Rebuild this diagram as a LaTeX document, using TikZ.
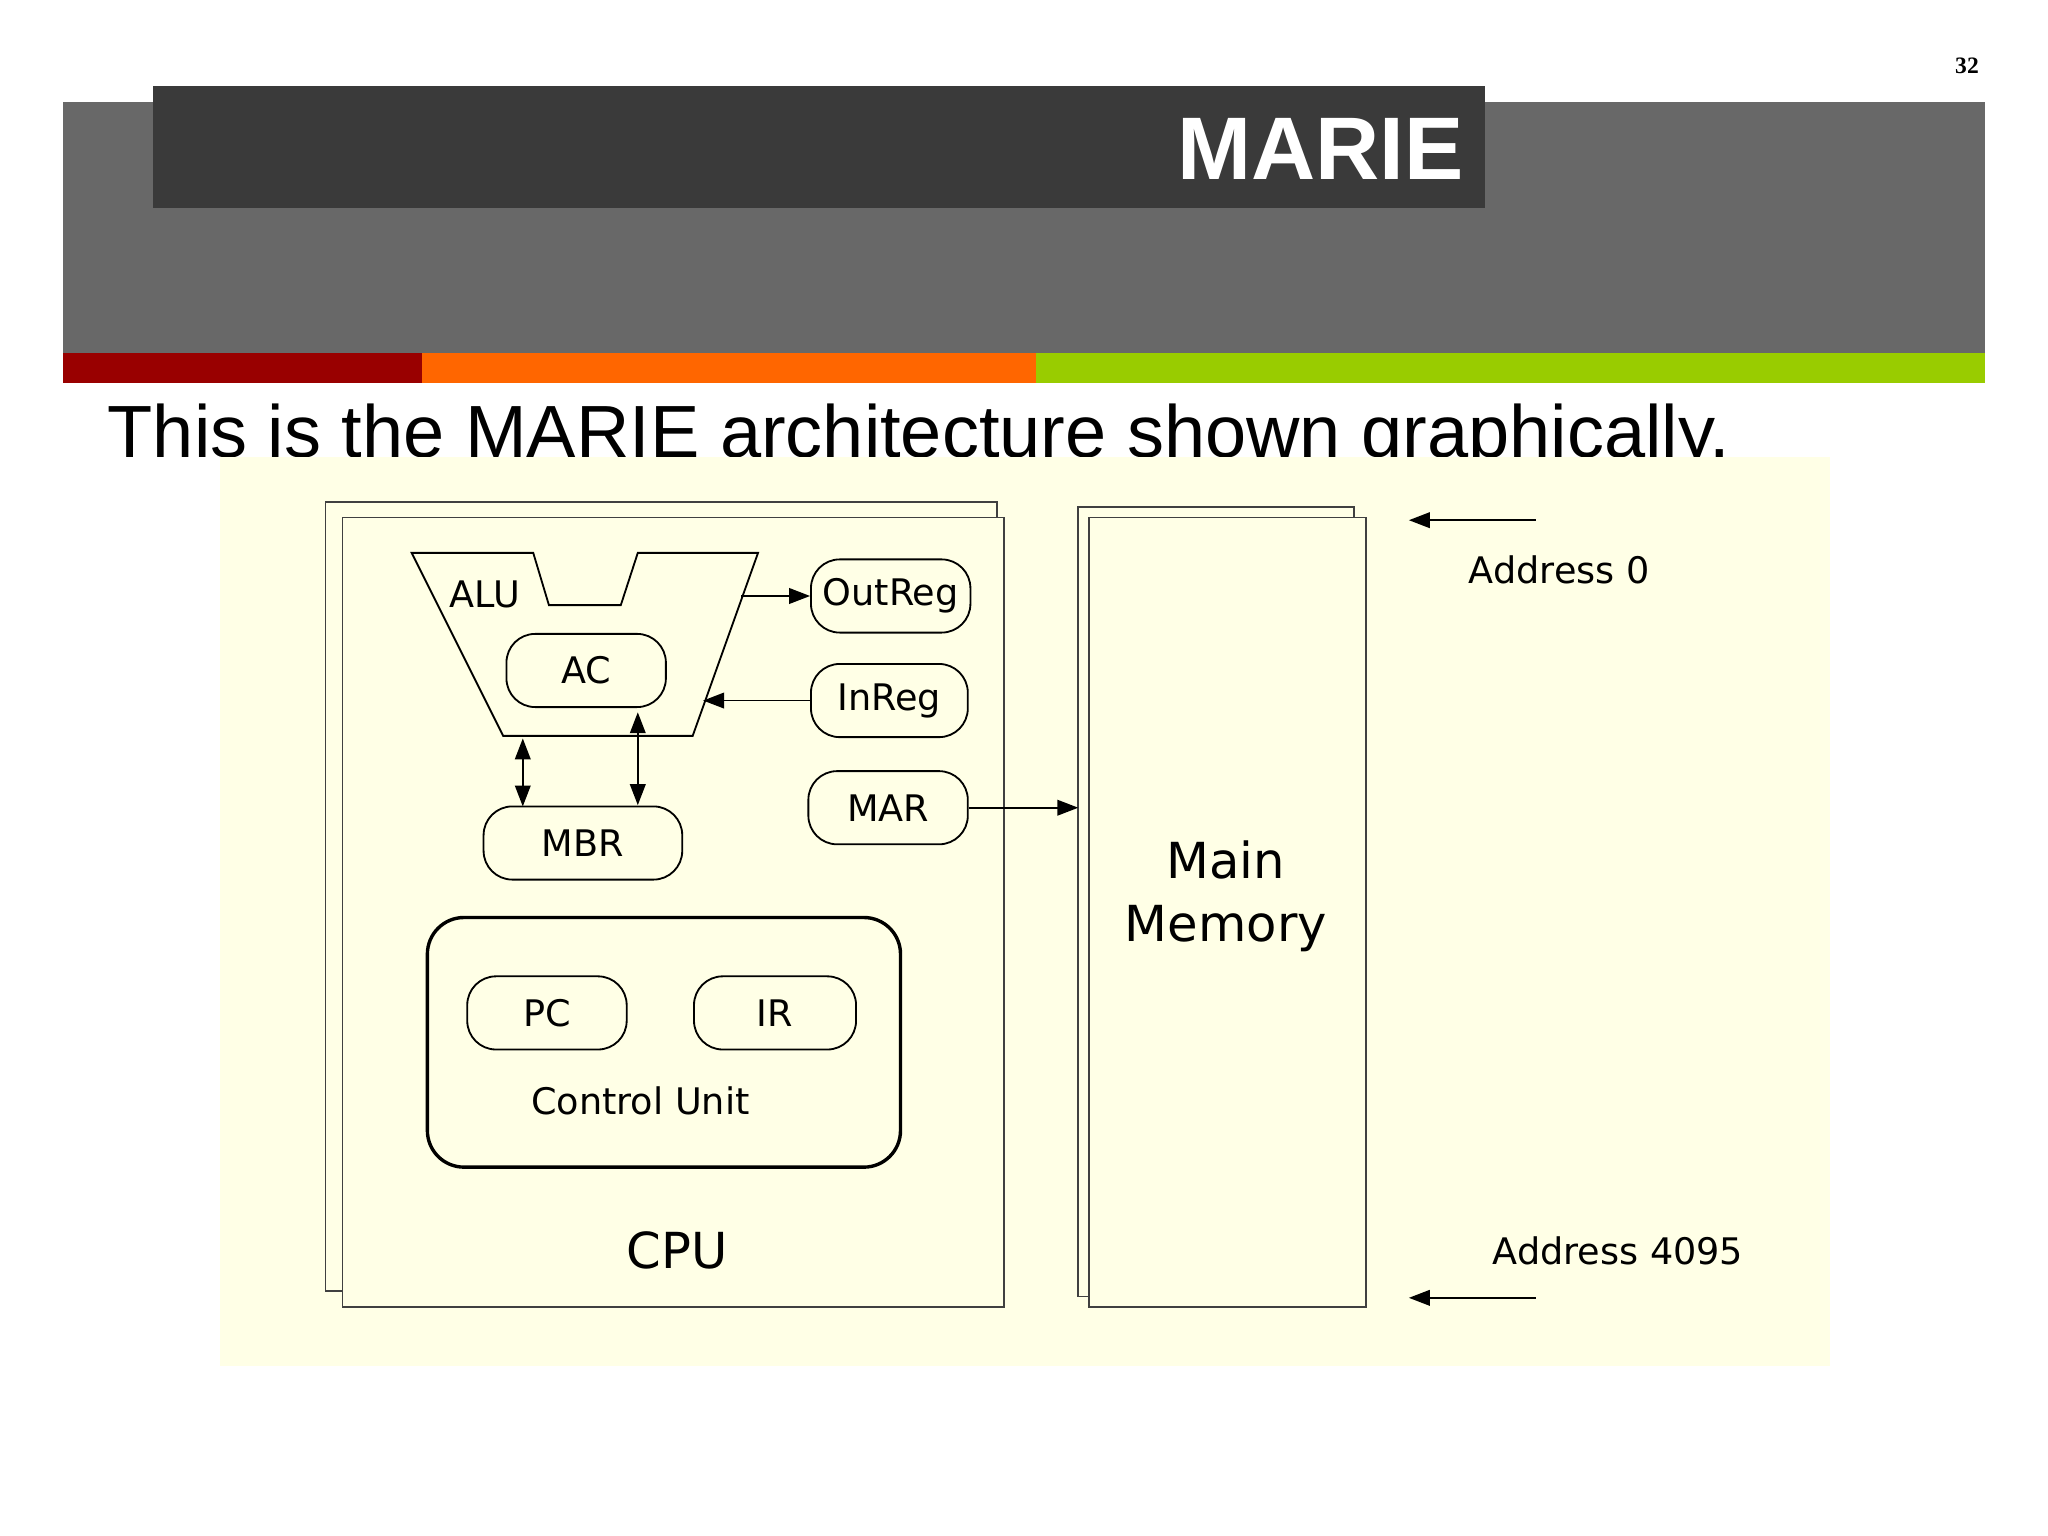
\documentclass[tikz,border=0pt]{standalone}
\usepackage{fontspec}
\setmainfont{Liberation Sans}
\newfontfamily\djv{DejaVu Sans}
\newfontfamily\tms{Liberation Serif}
\usetikzlibrary{arrows.meta}
\definecolor{band}{HTML}{686868}
\definecolor{dark}{HTML}{3A3A3A}
\definecolor{cream}{HTML}{FFFFE6}
\definecolor{bred}{HTML}{990000}
\definecolor{borange}{HTML}{FF6600}
\definecolor{bgreen}{HTML}{99CC00}
\begin{document}
\begin{tikzpicture}[x=0.5pt,y=-0.5pt,
  reg/.style={draw,rounded corners=11pt,line width=0.7pt,font=\djv\fontsize{14}{16}\selectfont},
  box/.style={draw=black!75,line width=0.7pt,fill=cream},
  arr/.style={-{Triangle[length=8pt,width=6pt]},line width=0.6pt},
  darr/.style={{Triangle[length=8pt,width=6pt]}-{Triangle[length=8pt,width=6pt]},line width=0.6pt}]
\useasboundingbox (0,0) rectangle (1567,1175);
\fill[white] (0,0) rectangle (1567,1175);
\node[font=\tms\fontsize{9}{10}\selectfont\bfseries] (pg) at (1505,50) {32};
\fill[band] (48,78) rectangle (1519,270);
\fill[dark] (117,66) rectangle (1136,159);
\node[anchor=east,text=white,font=\bfseries\fontsize{34}{38}\selectfont] (title) at (1127,114) {MARIE};
\fill[bred] (48,270) rectangle (323,293);
\fill[borange] (323,270) rectangle (793,293);
\fill[bgreen] (793,270) rectangle (1519,293);
\node[anchor=base west,font=\fontsize{28.3}{32}\selectfont,inner sep=0] (sub) at (82,350) {This is the MARIE architecture shown graphically.};
\fill[cream] (168,350) rectangle (1400,1045);
% CPU
\draw[box] (249,384) rectangle (763,988);
\draw[box] (262,396) rectangle (768,1000);
\node[font=\djv\fontsize{19}{22}\selectfont] (cpu) at (518,957) {CPU};
% ALU
\draw[line width=0.7pt] (315,423) -- (408,423) -- (420,463) -- (475,463) -- (488,423) -- (580,423) -- (530,563) -- (385,563) -- cycle;
\node[font=\djv\fontsize{14}{16}\selectfont] (alu) at (371,455) {ALU};
\node[reg,minimum width=61pt,minimum height=28pt] (ac) at (448.5,513) {AC};
\node[reg,minimum width=61pt,minimum height=28pt] (out) at (681.5,456) {OutReg};
\node[reg,minimum width=60pt,minimum height=28pt] (in) at (680.5,536) {InReg};
\node[reg,minimum width=61pt,minimum height=28pt] (mar) at (679.5,618) {MAR};
\node[reg,minimum width=76pt,minimum height=28pt] (mbr) at (446,645) {MBR};
\coordinate (aluR) at (567,456);
\coordinate (aluI) at (538,536);
\draw[arr] (aluR) -- (out.west);
\draw[arr] (in.west) -- (aluI);
\coordinate (d1a) at (400,565); \coordinate (d1b) at (400,617);
\coordinate (d2a) at (488,545); \coordinate (d2b) at (488,616);
\draw[darr] (d1a) -- (d1b);
\draw[darr] (d2a) -- (d2b);
% control unit
\draw[line width=1.3pt,rounded corners=14pt] (327,702) rectangle (689,893);
\node[reg,minimum width=61pt,minimum height=28pt] (pc) at (418.5,775) {PC};
\node[reg,minimum width=62pt,minimum height=28pt] (ir) at (593,775) {IR};
\node[font=\djv\fontsize{14}{16}\selectfont] (cu) at (490,842) {Control Unit};
% memory
\draw[box] (825,388) rectangle (1036,992);
\draw[box] (833,396) rectangle (1045,1000);
\node[font=\djv\fontsize{19}{24}\selectfont,align=center] (mem) at (938,686) {Main\\Memory};
\coordinate (memL) at (825,618);
\draw[arr] (mar.east) -- (memL);
\coordinate (a0s) at (1175,398); \coordinate (a0e) at (1078,398);
\coordinate (a1s) at (1175,993); \coordinate (a1e) at (1078,993);
\draw[arr] (a0s) -- (a0e);
\draw[arr] (a1s) -- (a1e);
\node[font=\djv\fontsize{14}{16}\selectfont] (ad0) at (1193,436) {Address 0};
\node[font=\djv\fontsize{14}{16}\selectfont] (ad1) at (1238,957) {Address 4095};
\end{tikzpicture}
\end{document}
